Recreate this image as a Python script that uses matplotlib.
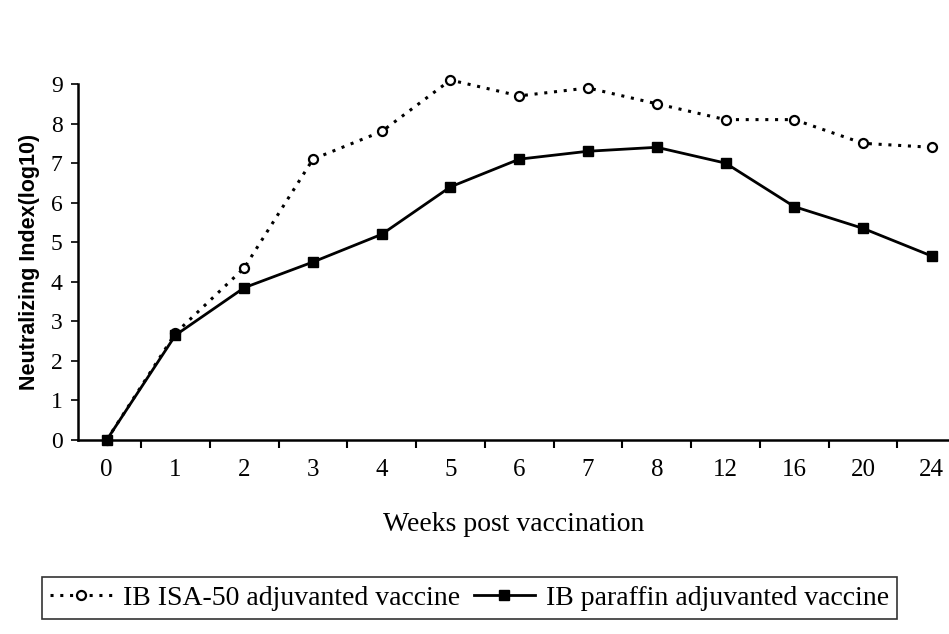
import matplotlib
matplotlib.use("Agg")
import matplotlib.pyplot as plt
import numpy as np

weeks = ["0", "1", "2", "3", "4", "5", "6", "7", "8", "12", "16", "20", "24"]
isa50 = [0.0, 2.7, 4.35, 7.1, 7.8, 9.1, 8.7, 8.9, 8.5, 8.1, 8.1, 7.5, 7.4]
paraffin = [0.0, 2.65, 3.85, 4.5, 5.2, 6.4, 7.1, 7.3, 7.4, 7.0, 5.9, 5.35, 4.65]
yticks = list(range(0, 10))

serif = "Liberation Serif"

fig = plt.figure(figsize=(9.49, 6.34), dpi=100)
ax = fig.add_axes([0.082, 0.306, 0.918, 0.5615])

x = np.arange(len(weeks))
ax.plot(x, isa50, linestyle=(0, (1, 2.2)), linewidth=2.2, color="black",
        marker="o", markersize=6.5, markerfacecolor="white",
        markeredgecolor="black", markeredgewidth=1.6, clip_on=False,
        label="IB ISA-50 adjuvanted vaccine")
ax.plot(x, paraffin, linestyle="-", linewidth=2.0, color="black",
        marker="s", markersize=7.5, markerfacecolor="black",
        markeredgecolor="black", clip_on=False,
        label="IB paraffin adjuvanted vaccine")

ax.set_xlim(-0.42, 12.25)
ax.set_ylim(0, 9)
ax.set_yticks(yticks)
ax.set_yticklabels([str(v) for v in yticks], fontfamily=serif, fontsize=17)

ax.set_xticks(x)
ax.set_xticklabels(weeks, fontfamily=serif, fontsize=18)
ax.set_xticks(x[:-1] + 0.5, minor=True)
ax.tick_params(axis="x", which="major", length=0, pad=14)
ax.tick_params(axis="x", which="minor", length=6, width=1.5, direction="out")
ax.tick_params(axis="y", which="major", length=5, width=1.2, direction="out", pad=6)

for s in ["top", "right"]:
    ax.spines[s].set_visible(False)
for s in ["left", "bottom"]:
    ax.spines[s].set_linewidth(1.8)

ax.set_xlabel("Weeks post vaccination", fontfamily=serif, fontsize=20, labelpad=22)
ax.set_ylabel("Neutralizing Index(log10)",
              fontfamily=["Liberation Sans Narrow", "Liberation Sans"],
              fontweight="bold", fontsize=15.5, labelpad=8)

leg = fig.legend(loc="center", ncol=2,
                 prop={"family": serif, "size": 20}, frameon=True,
                 fancybox=False, edgecolor="black", handlelength=2.2,
                 handletextpad=0.4, columnspacing=0.5, borderpad=0.3)
leg.set_bbox_to_anchor((0.495, 1 - 598 / 634), transform=fig.transFigure)
leg.get_frame().set_linewidth(1.2)

fig.savefig("out.png", dpi=100)
